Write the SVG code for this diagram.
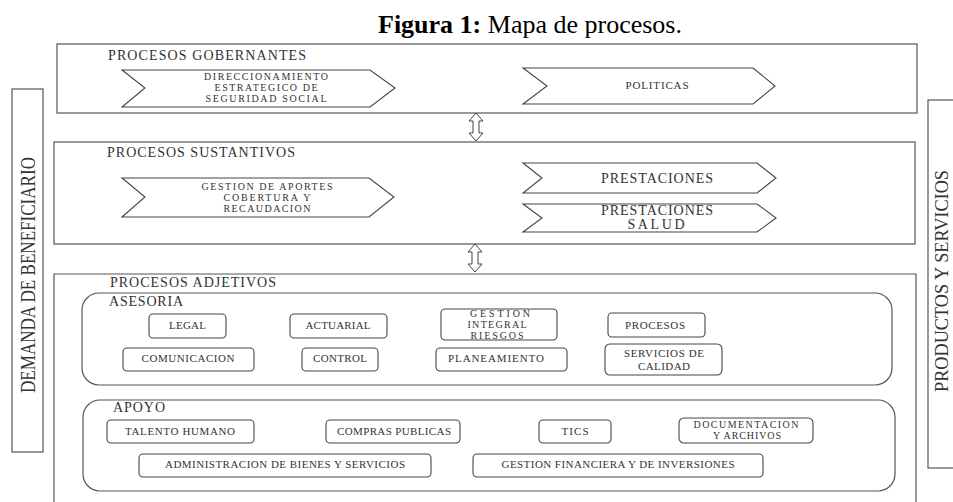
<svg xmlns="http://www.w3.org/2000/svg" width="953" height="502" viewBox="0 0 953 502">
<defs>
<style>
.box{fill:none;stroke:#555;stroke-width:1.2}
.chev{fill:#fff;stroke:#444;stroke-width:1.1}
.rr{fill:#fff;stroke:#444;stroke-width:1.1}
.t{font-family:"Liberation Serif","Times New Roman",serif;fill:#333}
.h{font-size:14px}
.s{font-size:10px;text-anchor:middle}
.m{font-size:11px;text-anchor:middle}
.arrow{fill:#fff;stroke:#444;stroke-width:1}
</style>
</defs>
<rect width="953" height="502" fill="#fff"/>
<text x="530" y="33" text-anchor="middle" font-family="'Liberation Serif','Times New Roman',serif" font-size="26" fill="#000"><tspan font-weight="bold">Figura 1:</tspan> Mapa de procesos.</text>

<g id="demanda">
<rect class="box" x="12" y="89" width="31" height="363"/>
<text class="t" transform="translate(35,275) rotate(-90)" text-anchor="middle" font-size="20" textLength="236" lengthAdjust="spacingAndGlyphs">DEMANDA DE BENEFICIARIO</text>
</g>
<g id="productos">
<rect class="box" x="928" y="100" width="40" height="368"/>
<text class="t" transform="translate(948,281) rotate(-90)" text-anchor="middle" font-size="19" textLength="222" lengthAdjust="spacingAndGlyphs">PRODUCTOS Y SERVICIOS</text>
</g>

<g id="gobernantes">
<rect class="box" x="57" y="44" width="860" height="69"/>
<text class="t h" x="108" y="60" textLength="198" lengthAdjust="spacing">PROCESOS GOBERNANTES</text>
</g>
<g id="direccionamiento">
<path class="chev" d="M122,70 L370,70 L395,88 L370,107 L122,107 L145,88 Z"/>
<text class="t s" x="266" y="80" textLength="124" lengthAdjust="spacing">DIRECCIONAMIENTO</text>
<text class="t s" x="266" y="91" textLength="103" lengthAdjust="spacing">ESTRATEGICO DE</text>
<text class="t s" x="266" y="102" textLength="121" lengthAdjust="spacing">SEGURIDAD SOCIAL</text>
</g>
<g id="politicas">
<path class="chev" d="M523,68 L753,68 L775,86 L753,104 L523,104 L547,86 Z"/>
<text class="t" x="657" y="89" font-size="11" text-anchor="middle" textLength="63" lengthAdjust="spacing">POLITICAS</text>
</g>

<g id="sustantivos">
<rect class="box" x="54" y="142" width="861" height="102"/>
<text class="t h" x="107" y="157" textLength="188" lengthAdjust="spacing">PROCESOS SUSTANTIVOS</text>
</g>
<g id="gestion-aportes">
<path class="chev" d="M122,178 L369,178 L394,197 L369,217 L122,217 L145,197 Z"/>
<text class="t s" x="267" y="190" textLength="131" lengthAdjust="spacing">GESTION DE APORTES</text>
<text class="t s" x="267" y="201" textLength="87" lengthAdjust="spacing">COBERTURA Y</text>
<text class="t s" x="267" y="211.5" textLength="87" lengthAdjust="spacing">RECAUDACION</text>
</g>
<g id="prestaciones">
<path class="chev" d="M523,163 L757,163 L776,178 L757,193 L523,193 L542,178 Z"/>
<text class="t" x="657" y="183" text-anchor="middle" font-size="14" textLength="112" lengthAdjust="spacing">PRESTACIONES</text>
</g>
<g id="prestaciones-salud">
<path class="chev" d="M523,204 L757,204 L776,218 L757,232 L523,232 L542,218 Z"/>
<text class="t" x="657" y="215" text-anchor="middle" font-size="14" textLength="112" lengthAdjust="spacing">PRESTACIONES</text>
<text class="t" x="656" y="229" text-anchor="middle" font-size="14" textLength="57" lengthAdjust="spacing">SALUD</text>
</g>

<g id="adjetivos">
<path class="box" d="M54,510 L54,274 L916,274 L916,510"/>
<text class="t h" x="110" y="287" textLength="166" lengthAdjust="spacing">PROCESOS ADJETIVOS</text>
</g>
<g id="asesoria">
<rect class="box" x="82" y="293" width="810" height="92" rx="17" ry="17"/>
<text class="t" x="109" y="306" font-size="14" textLength="74" lengthAdjust="spacing">ASESORIA</text>
</g>
<g id="legal"><rect class="rr" x="149" y="314" width="77" height="24" rx="4"/><text class="t m" x="187.5" y="329" textLength="37">LEGAL</text></g>
<g id="actuarial"><rect class="rr" x="290" y="314" width="97" height="24" rx="4"/><text class="t m" x="338" y="329" textLength="65">ACTUARIAL</text></g>
<g id="gestion-riesgos"><rect class="rr" x="441" y="309" width="116" height="31" rx="4"/>
<text class="t s" x="500" y="317" textLength="60">GESTION</text>
<text class="t s" x="497" y="328" textLength="59">INTEGRAL</text>
<text class="t s" x="497" y="339" textLength="53">RIESGOS</text></g>
<g id="procesos"><rect class="rr" x="608" y="313" width="97" height="24" rx="4"/><text class="t m" x="655" y="329" textLength="60">PROCESOS</text></g>
<g id="comunicacion"><rect class="rr" x="123" y="348" width="131" height="23" rx="4"/><text class="t m" x="188" y="362" textLength="93">COMUNICACION</text></g>
<g id="control"><rect class="rr" x="302" y="348" width="76" height="23" rx="4"/><text class="t m" x="340" y="362" textLength="54">CONTROL</text></g>
<g id="planeamiento"><rect class="rr" x="436" y="348" width="131" height="23" rx="4"/><text class="t m" x="496" y="362" textLength="96">PLANEAMIENTO</text></g>
<g id="servicios-calidad"><rect class="rr" x="605" y="344" width="117" height="31" rx="5"/>
<text class="t m" x="664" y="357" textLength="80">SERVICIOS DE</text>
<text class="t m" x="664" y="369.5" textLength="52">CALIDAD</text></g>

<g id="apoyo">
<rect class="box" x="83" y="400" width="812" height="91" rx="17" ry="17"/>
<text class="t" x="113" y="412" font-size="14" textLength="52" lengthAdjust="spacing">APOYO</text>
</g>
<g id="talento"><rect class="rr" x="107" y="420" width="147" height="23" rx="4"/><text class="t m" x="180" y="435" textLength="110">TALENTO HUMANO</text></g>
<g id="compras"><rect class="rr" x="326" y="420" width="134" height="23" rx="4"/><text class="t m" x="394" y="435" textLength="114">COMPRAS PUBLICAS</text></g>
<g id="tics"><rect class="rr" x="539" y="420" width="72" height="23" rx="4"/><text class="t m" x="575" y="435" textLength="27">TICS</text></g>
<g id="documentacion"><rect class="rr" x="679" y="418" width="134" height="25" rx="5"/>
<text class="t s" x="746" y="428" textLength="105">DOCUMENTACION</text>
<text class="t s" x="747" y="439" textLength="68">Y ARCHIVOS</text></g>
<g id="administracion"><rect class="rr" x="139" y="454" width="292" height="23" rx="4"/><text class="t m" x="285" y="468" textLength="240">ADMINISTRACION DE BIENES Y SERVICIOS</text></g>
<g id="financiera"><rect class="rr" x="473" y="454" width="290" height="23" rx="4"/><text class="t m" x="618" y="468" textLength="233">GESTION FINANCIERA Y DE INVERSIONES</text></g>

<g id="connectors">
<path class="arrow" d="M476,113 L483,121 L479,121 L479,133 L483,133 L476,141 L469,133 L473,133 L473,121 L469,121 Z"/>
<path class="arrow" d="M475,244 L482,252 L478,252 L478,264 L482,264 L475,272 L468,264 L472,264 L472,252 L468,252 Z"/>
</g>
</svg>
